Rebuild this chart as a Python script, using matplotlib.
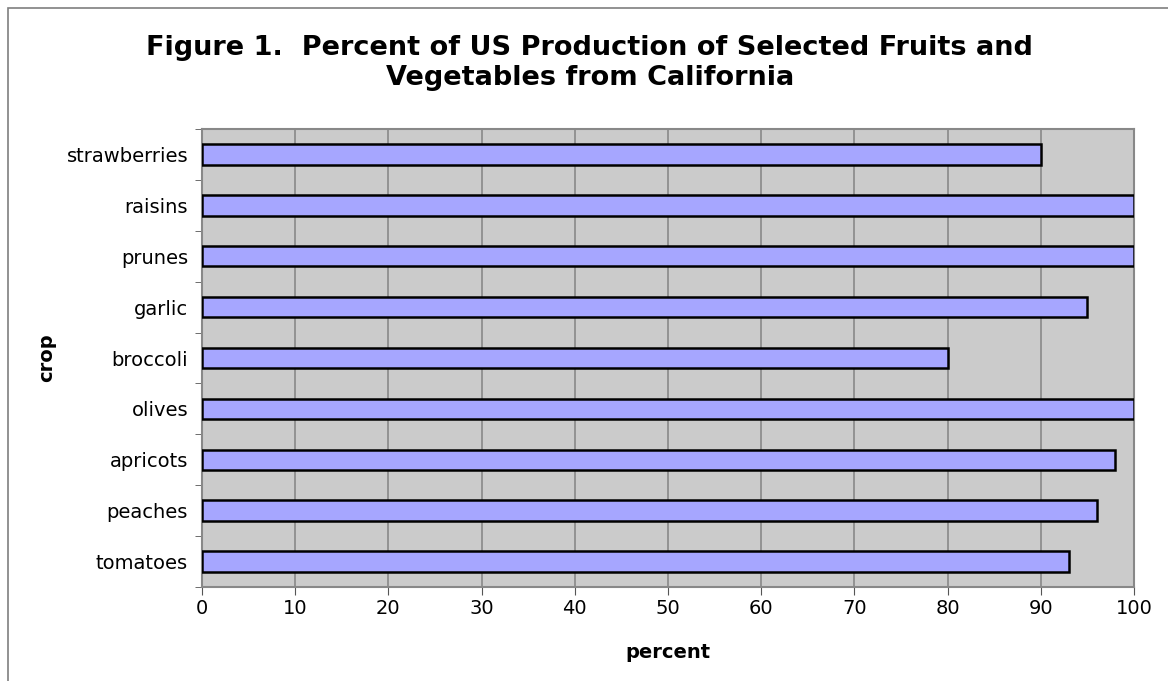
import matplotlib
matplotlib.use('Agg')
import matplotlib.pyplot as plt
import matplotlib.patches as mpatches

plt.rcParams['font.family'] = ['DejaVu Sans']

crops = ['tomatoes', 'peaches', 'apricots', 'olives', 'broccoli',
         'garlic', 'prunes', 'raisins', 'strawberries']
percent = [93, 96, 98, 100, 80, 95, 100, 100, 90]
x_ticks = [0, 10, 20, 30, 40, 50, 60, 70, 80, 90, 100]

fig = plt.figure(figsize=(11.68, 6.81), dpi=100)
ax = fig.add_axes([202 / 1168, 1 - 587 / 681, 932 / 1168, 458 / 681])

# outer chart frame (only left/top visible in the original crop)
fig.patches.append(mpatches.Rectangle((8 / 1168, -0.1), 1.2, 1 - 8 / 681 + 0.1,
                                      transform=fig.transFigure, fill=False,
                                      edgecolor='#7f7f7f', linewidth=1.2))

ax.set_facecolor('#cbcbcb')
y = list(range(len(crops)))
ax.barh(y, percent, height=0.4, color='#a6a6ff', edgecolor='black',
        linewidth=1.8, zorder=3)

ax.set_xlim(0, 100)
ax.set_ylim(-0.5, len(crops) - 0.5)
ax.set_xticks(x_ticks)
ax.set_xticklabels([str(t) for t in x_ticks], fontsize=14)
ax.set_yticks(y)
ax.set_yticklabels(crops, fontsize=14)
ax.tick_params(axis='y', length=0, pad=10)
ax.tick_params(axis='x', length=6, color='#555555', pad=3)
ax.set_yticks([i + 0.5 for i in range(-1, len(crops))], minor=True)
ax.tick_params(axis='y', which='minor', length=5, color='#555555')
ax.xaxis.grid(True, color='#888888', linewidth=1.2, zorder=1)
ax.set_axisbelow(True)
for s in ax.spines.values():
    s.set_color('#888888')
    s.set_linewidth(1.5)

ax.set_xlabel('percent', fontsize=14, fontweight='bold', labelpad=18)
ax.set_ylabel('crop', fontsize=14, fontweight='bold')
ax.yaxis.set_label_coords(-0.157, 0.5)

fig.text(0.505, 1 - 63 / 681,
         'Figure 1.  Percent of US Production of Selected Fruits and\n'
         'Vegetables from California',
         ha='center', va='center', fontsize=19.5, fontweight='bold',
         linespacing=1.2)

fig.savefig('out.png', dpi=100, facecolor='white')
